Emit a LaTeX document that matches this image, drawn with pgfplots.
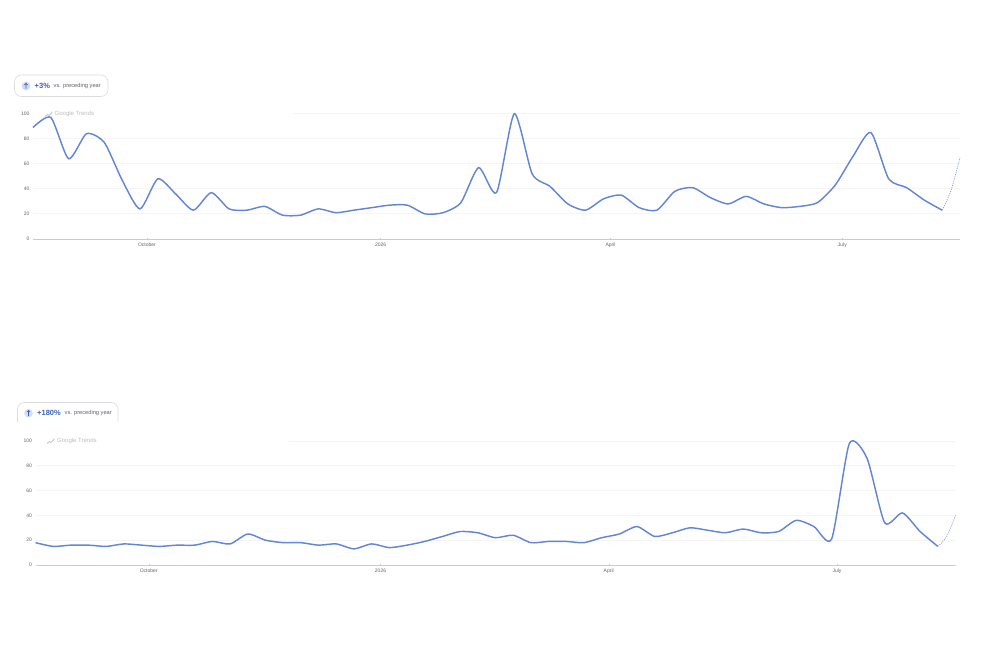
\documentclass[border=0pt]{standalone}
\usepackage{fontspec}
\setmainfont{Liberation Sans}
\usepackage{pgfplots}
\pgfplotsset{compat=1.18}
\definecolor{trendline}{HTML}{6285D6}
\definecolor{trendblue}{HTML}{3A5FBD}
\definecolor{pillborder}{HTML}{DADCE0}
\definecolor{axisgrey}{HTML}{C9CBCF}
\definecolor{gridgrey}{HTML}{F5F5F6}
\definecolor{labelgrey}{HTML}{5F6368}
\definecolor{logogrey}{HTML}{BDBDBD}

% weekly values, week number in the first column
\pgfplotstableread{
w v
0 89
1 97
2 64
3 84
4 77
5 47
6 24
7 48
8 36
9 23
10 37
11 24
12 23
13 26
14 19
15 19
16 24
17 21
18 23
19 25
20 27
21 27
22 20
23 21
24 29
25 57
26 37
27 100
28 52
29 42
30 28
31 23
32 32
33 35
34 25
35 23
36 38
37 41
38 33
39 28
40 34
41 28
42 25
43 26
44 29
45 43
46 66
47 85
48 48
49 41
50 31
51 23
}\topdata
\pgfplotstableread{
w v
51 23
51.5 39
52 65
}\toppartial
\pgfplotstableread{
w v
0 18
1 15
2 16
3 16
4 15
5 17
6 16
7 15
8 16
9 16
10 19
11 17
12 25
13 20
14 18
15 18
16 16
17 17
18 13
19 17
20 14
21 16
22 19
23 23
24 27
25 26
26 22
27 24
28 18
29 19
30 19
31 18
32 22
33 25
34 31
35 23
36 26
37 30
38 28
39 26
40 29
41 26
42 27
43 36
44 31
45 21
46 98
47 86
48 34
49 42
50 27
51 15
}\bottomdata
\pgfplotstableread{
w v
51 15
51.5 23
52 40
}\bottompartial

\pgfplotsset{trendsaxis/.style={
    scale only axis,
    anchor=south west,
    xmin=0, xmax=52,
    ymin=0, ymax=100,
    clip=false,
    axis x line=bottom,
    axis y line=left,
    axis line style={draw=axisgrey, line width=0.8pt, -},
    y axis line style={draw=none},
    ymajorgrids,
    major grid style={draw=gridgrey, line width=0.9pt},
    ytick={0,20,...,100},
    xticklabels={October,2026,April,July},
    major tick length=2pt,
    xtick style={draw=axisgrey, line width=0.4pt},
    ytick style={draw=none},
    tick label style={font=\fontsize{5}{6}\selectfont, text=labelgrey},
    /pgf/number format/assume math mode=true,
    xticklabel style={yshift=0.2pt},
    yticklabel style={xshift=1pt},
}}
\tikzset{
    gridgap/.style={draw=white, line width=3pt, no markers},
    solidtrend/.style={draw=trendline, line width=1.45pt, smooth, tension=0.4, no markers},
    partialtrend/.style={draw=trendline!80, line width=0.7pt, smooth, no markers, dash pattern=on 1.1pt off 1.1pt},
    badgetext/.style={anchor=west, inner sep=0pt, text=labelgrey, font=\fontsize{5.7}{7}\selectfont},
    badgenum/.style={anchor=west, inner sep=0pt, text=trendblue, font=\fontsize{7.5}{9}\selectfont\bfseries},
    logotext/.style={anchor=west, inner sep=0pt, text=logogrey, font=\fontsize{6}{7}\selectfont},
}

\begin{document}
\begin{tikzpicture}
\useasboundingbox (0pt,0pt) rectangle (990pt,660pt);

\begin{axis}[trendsaxis, at={(33pt,421pt)}, width=927pt, height=125.3pt,
    xtick={6.39,19.5,32.4,45.4}]
% watermark gap in the 100 gridline, under the curve
\addplot[gridgap] coordinates {(0,100) (14.6,100)};
\addplot[solidtrend] table[x=w,y=v] {\topdata};
\addplot[partialtrend] table[x=w,y=v] {\toppartial};
\end{axis}

\begin{axis}[trendsaxis, at={(35.5pt,95pt)}, width=920pt, height=124pt,
    xtick={6.4,19.5,32.4,45.3}]
\addplot[gridgap] coordinates {(0,100) (14.3,100)};
\addplot[solidtrend] table[x=w,y=v] {\bottomdata};
\addplot[partialtrend] table[x=w,y=v] {\bottompartial};
\end{axis}

% top badge
\draw[pillborder, line width=0.6pt, fill=white, rounded corners=7pt] (14.5pt,563.5pt) rectangle (108pt,585pt);
\fill[trendline!30] (26pt,574pt) circle (4.4pt);
\draw[trendblue, line width=0.6pt] (26pt,571.4pt) -- (26pt,576.6pt) (24.3pt,575pt) -- (26pt,576.8pt) -- (27.7pt,575pt);
\node[badgenum] at (34.5pt,574pt) {+3\%};
\node[badgetext] at (53.5pt,574pt) {vs. preceding year};

% top watermark
\draw[logogrey, line width=0.7pt] (45pt,543.5pt) -- (47.5pt,545.5pt) -- (49pt,544.5pt) -- (52.5pt,548pt);
\node[logotext] at (54.5pt,546.5pt) {Google Trends};

% bottom badge, its lower edge is open in the reference
\draw[pillborder, line width=0.6pt, rounded corners=7pt] (17.5pt,238pt) -- (17.5pt,257.5pt) -- (118pt,257.5pt) -- (118pt,238pt);
\fill[trendline!25] (28.5pt,246.7pt) circle (4.4pt);
\draw[trendblue, line width=0.6pt] (28.5pt,243.8pt) -- (28.5pt,249.4pt) (26.8pt,247.8pt) -- (28.5pt,249.6pt) -- (30.2pt,247.8pt);
\node[badgenum] at (37pt,246.7pt) {+180\%};
\node[badgetext] at (64.5pt,246.7pt) {vs. preceding year};

% bottom watermark
\draw[logogrey, line width=0.7pt] (47pt,216.5pt) -- (49.5pt,218.5pt) -- (51pt,217.5pt) -- (54.5pt,221pt);
\node[logotext] at (57pt,219.5pt) {Google Trends};
\end{tikzpicture}
\end{document}
